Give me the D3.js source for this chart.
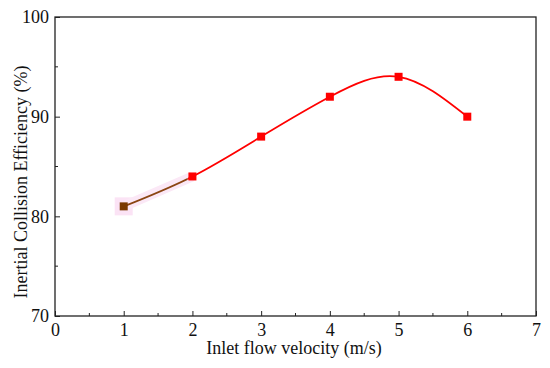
<!DOCTYPE html>
<html>
<head>
<meta charset="utf-8">
<script src="https://cdn.jsdelivr.net/npm/d3@7"></script>
<style>
  body { margin: 0; background: #fff; }
  text { font-family: "Liberation Serif", "Times New Roman", serif; }
</style>
</head>
<body>
<div id="chart"></div>
<script>
// data
const velocity = [1, 2, 3, 4, 5, 6];
const efficiency = [81, 84, 88, 92, 94, 90];
const xTicks = [0, 1, 2, 3, 4, 5, 6, 7];
const yTicks = [70, 80, 90, 100];

const width = 550, height = 368;
const margin = {top: 17, right: 14, bottom: 52, left: 55};

const svg = d3.select("#chart").append("svg")
    .attr("width", width)
    .attr("height", height);

const x = d3.scaleLinear().domain([0, 7]).range([margin.left, width - margin.right]);
const y = d3.scaleLinear().domain([70, 100]).range([height - margin.bottom, margin.top]);

// frame
svg.append("rect")
    .attr("x", x(0)).attr("y", y(100))
    .attr("width", x(7) - x(0)).attr("height", y(70) - y(100))
    .attr("fill", "none").attr("stroke", "#222").attr("stroke-width", 1.3);

// ticks point inward
const xAxis = d3.axisBottom(x).tickValues(xTicks).tickSize(-5).tickPadding(7).tickFormat(d3.format("d"));
const yAxis = d3.axisLeft(y).tickValues(yTicks).tickSize(-5).tickPadding(6).tickFormat(d3.format("d"));

const gx = svg.append("g").attr("transform", "translate(0," + y(70) + ")").call(xAxis);
const gy = svg.append("g").attr("transform", "translate(" + x(0) + ",0)").call(yAxis);

// minor ticks
gx.selectAll(".minor").data(d3.range(0.5, 7, 1)).enter().append("line")
    .attr("x1", d => x(d)).attr("x2", d => x(d)).attr("y1", 0).attr("y2", -3)
    .attr("stroke", "#222");
gy.selectAll(".minor").data([75, 85, 95]).enter().append("line")
    .attr("y1", d => y(d)).attr("y2", d => y(d)).attr("x1", 0).attr("x2", 3)
    .attr("stroke", "#222");

[gx, gy].forEach(g => {
    g.select(".domain").remove();
    g.attr("font-size", 18).attr("font-family", "'Liberation Serif', serif");
    g.selectAll(".tick line").attr("stroke", "#222").attr("stroke-width", 1);
    g.selectAll(".tick text").attr("fill", "#111");
});

// axis titles
svg.append("text")
    .attr("x", 294).attr("y", 354)
    .attr("text-anchor", "middle").attr("font-size", 18).attr("fill", "#111")
    .text("Inlet flow velocity (m/s)");

svg.append("text")
    .attr("transform", "translate(27,182) rotate(-90)")
    .attr("text-anchor", "middle").attr("font-size", 18).attr("fill", "#111")
    .text("Inertial Collision Efficiency (%)");

const pts = velocity.map((v, i) => [v, efficiency[i]]);

const line = d3.line()
    .x(d => x(d[0]))
    .y(d => y(d[1]))
    .curve(d3.curveNatural);

// faint pink highlight around the first segment, as in the original
svg.append("rect")
    .attr("x", x(1) - 9).attr("y", y(81) - 9).attr("width", 18).attr("height", 18)
    .attr("fill", "#fbe3f5");
svg.append("path")
    .attr("d", d3.line().x(d => x(d[0])).y(d => y(d[1]))(pts.slice(0, 2)))
    .attr("fill", "none").attr("stroke", "#fbe8f6").attr("stroke-width", 10);

// first segment in brown, the rest red
const clipA = svg.append("clipPath").attr("id", "segA");
clipA.append("rect").attr("x", 0).attr("y", 0).attr("width", x(2) - 5).attr("height", height);
const clipB = svg.append("clipPath").attr("id", "segB");
clipB.append("rect").attr("x", x(2) - 5).attr("y", 0).attr("width", width).attr("height", height);

svg.append("path")
    .attr("d", line(pts))
    .attr("fill", "none").attr("stroke", "#ff0000").attr("stroke-width", 1.8)
    .attr("clip-path", "url(#segB)");
svg.append("path")
    .attr("d", line(pts))
    .attr("fill", "none").attr("stroke", "#8b4513").attr("stroke-width", 1.8)
    .attr("clip-path", "url(#segA)");

// markers
const s = 8;
svg.selectAll(".pt").data(pts).enter().append("rect")
    .attr("x", d => x(d[0]) - s / 2)
    .attr("y", d => y(d[1]) - s / 2)
    .attr("width", s).attr("height", s)
    .attr("fill", (d, i) => i === 0 ? "#7a3a00" : "#ff0000");
</script>
</body>
</html>
